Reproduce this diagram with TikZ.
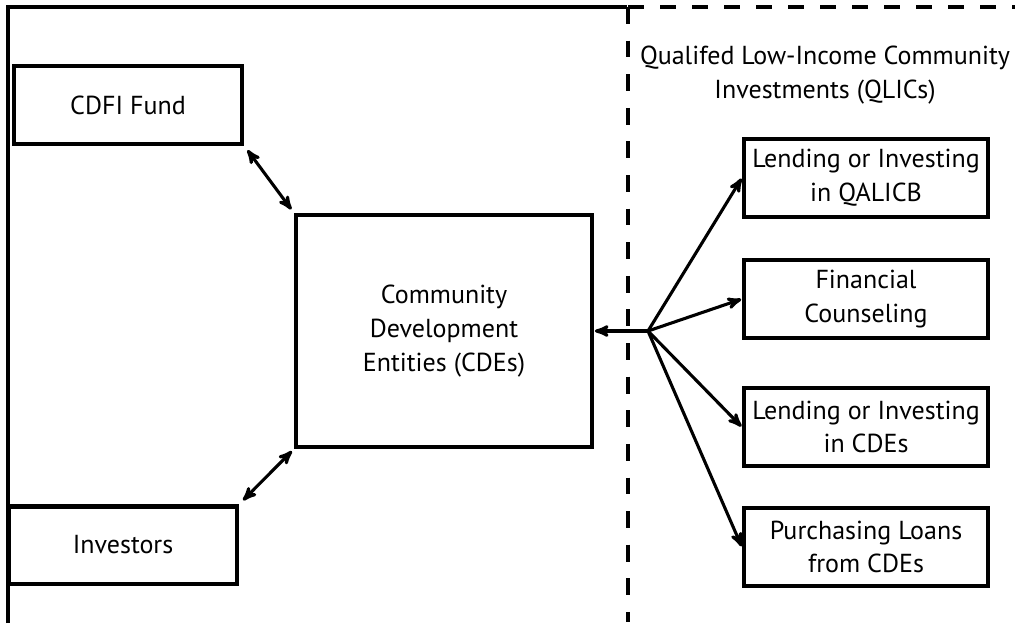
\documentclass[tikz,border=0pt]{standalone}
\usepackage{fontspec}
\setmainfont{PT Sans}
\usetikzlibrary{arrows}

\begin{document}
\begin{tikzpicture}[
        x=0.025cm, y=-0.025cm,
        entity/.style={
                rectangle,
                draw=black,
                line width=3pt,
                align=center,
                inner sep=0pt,
                font=\fontsize{18.5}{24}\selectfont
            },
        sidebox/.style={entity, minimum width=5.7cm, minimum height=1.93cm},
        qlicbox/.style={entity, minimum width=6.1cm, minimum height=1.95cm},
        flow/.style={line width=2.2pt},
        border/.style={line width=2.8pt},
        >= stealth',
        shorten >= 0.5pt
    ]
    \useasboundingbox (0,0) rectangle (1016,623);

    % frame and the QLIC section
    \coordinate (tl) at (8,7);
    \coordinate (bl) at (8,623);
    \coordinate (dtop) at (628,7);
    \coordinate (dbot) at (628,623);
    \coordinate (tr) at (1016,7);
    \draw[border] (bl) -- (tl) -- (dtop);
    \draw[border,dash pattern=on 0.4cm off 0.4cm] (dtop) -- (tr);
    \draw[border,dash pattern=on 0.42cm off 0.42cm] (dtop) -- (dbot);

    \node[sidebox] (cdfi) at (128,105) {CDFI Fund};
    \node[sidebox] (investors) at (123,545) {Investors};
    \node[entity,minimum width=7.4cm,minimum height=5.8cm] (cde) at (444,331)
        {Community\\Development\\Entities (CDEs)};

    \node[font=\fontsize{18.5}{24}\selectfont,align=center] (qlic) at (825,75)
        {Qualifed Low-Income Community\\Investments (QLICs)};

    \node[qlicbox] (qalicb) at (866,178) {Lending or Investing\\in QALICB};
    \node[qlicbox] (counsel) at (866,299) {Financial\\Counseling};
    \node[qlicbox] (lendcde) at (866,427) {Lending or Investing\\in CDEs};
    \node[qlicbox] (purchase) at (866,547) {Purchasing Loans\\from CDEs};

    \coordinate (hub) at (648,331);

    \path[flow,<->,shorten <=4pt,shorten >=3pt] (cdfi.south east) edge (cde.north west);
    \path[flow,<->,shorten <=4pt,shorten >=2pt] (investors.north east) edge (cde.south west);
    \draw[flow,->] (hub) -- (cde.east);
    \foreach \target in {qalicb,counsel,lendcde,purchase}
        \draw[flow,->] (hub) -- (\target.west);
\end{tikzpicture}
\end{document}
